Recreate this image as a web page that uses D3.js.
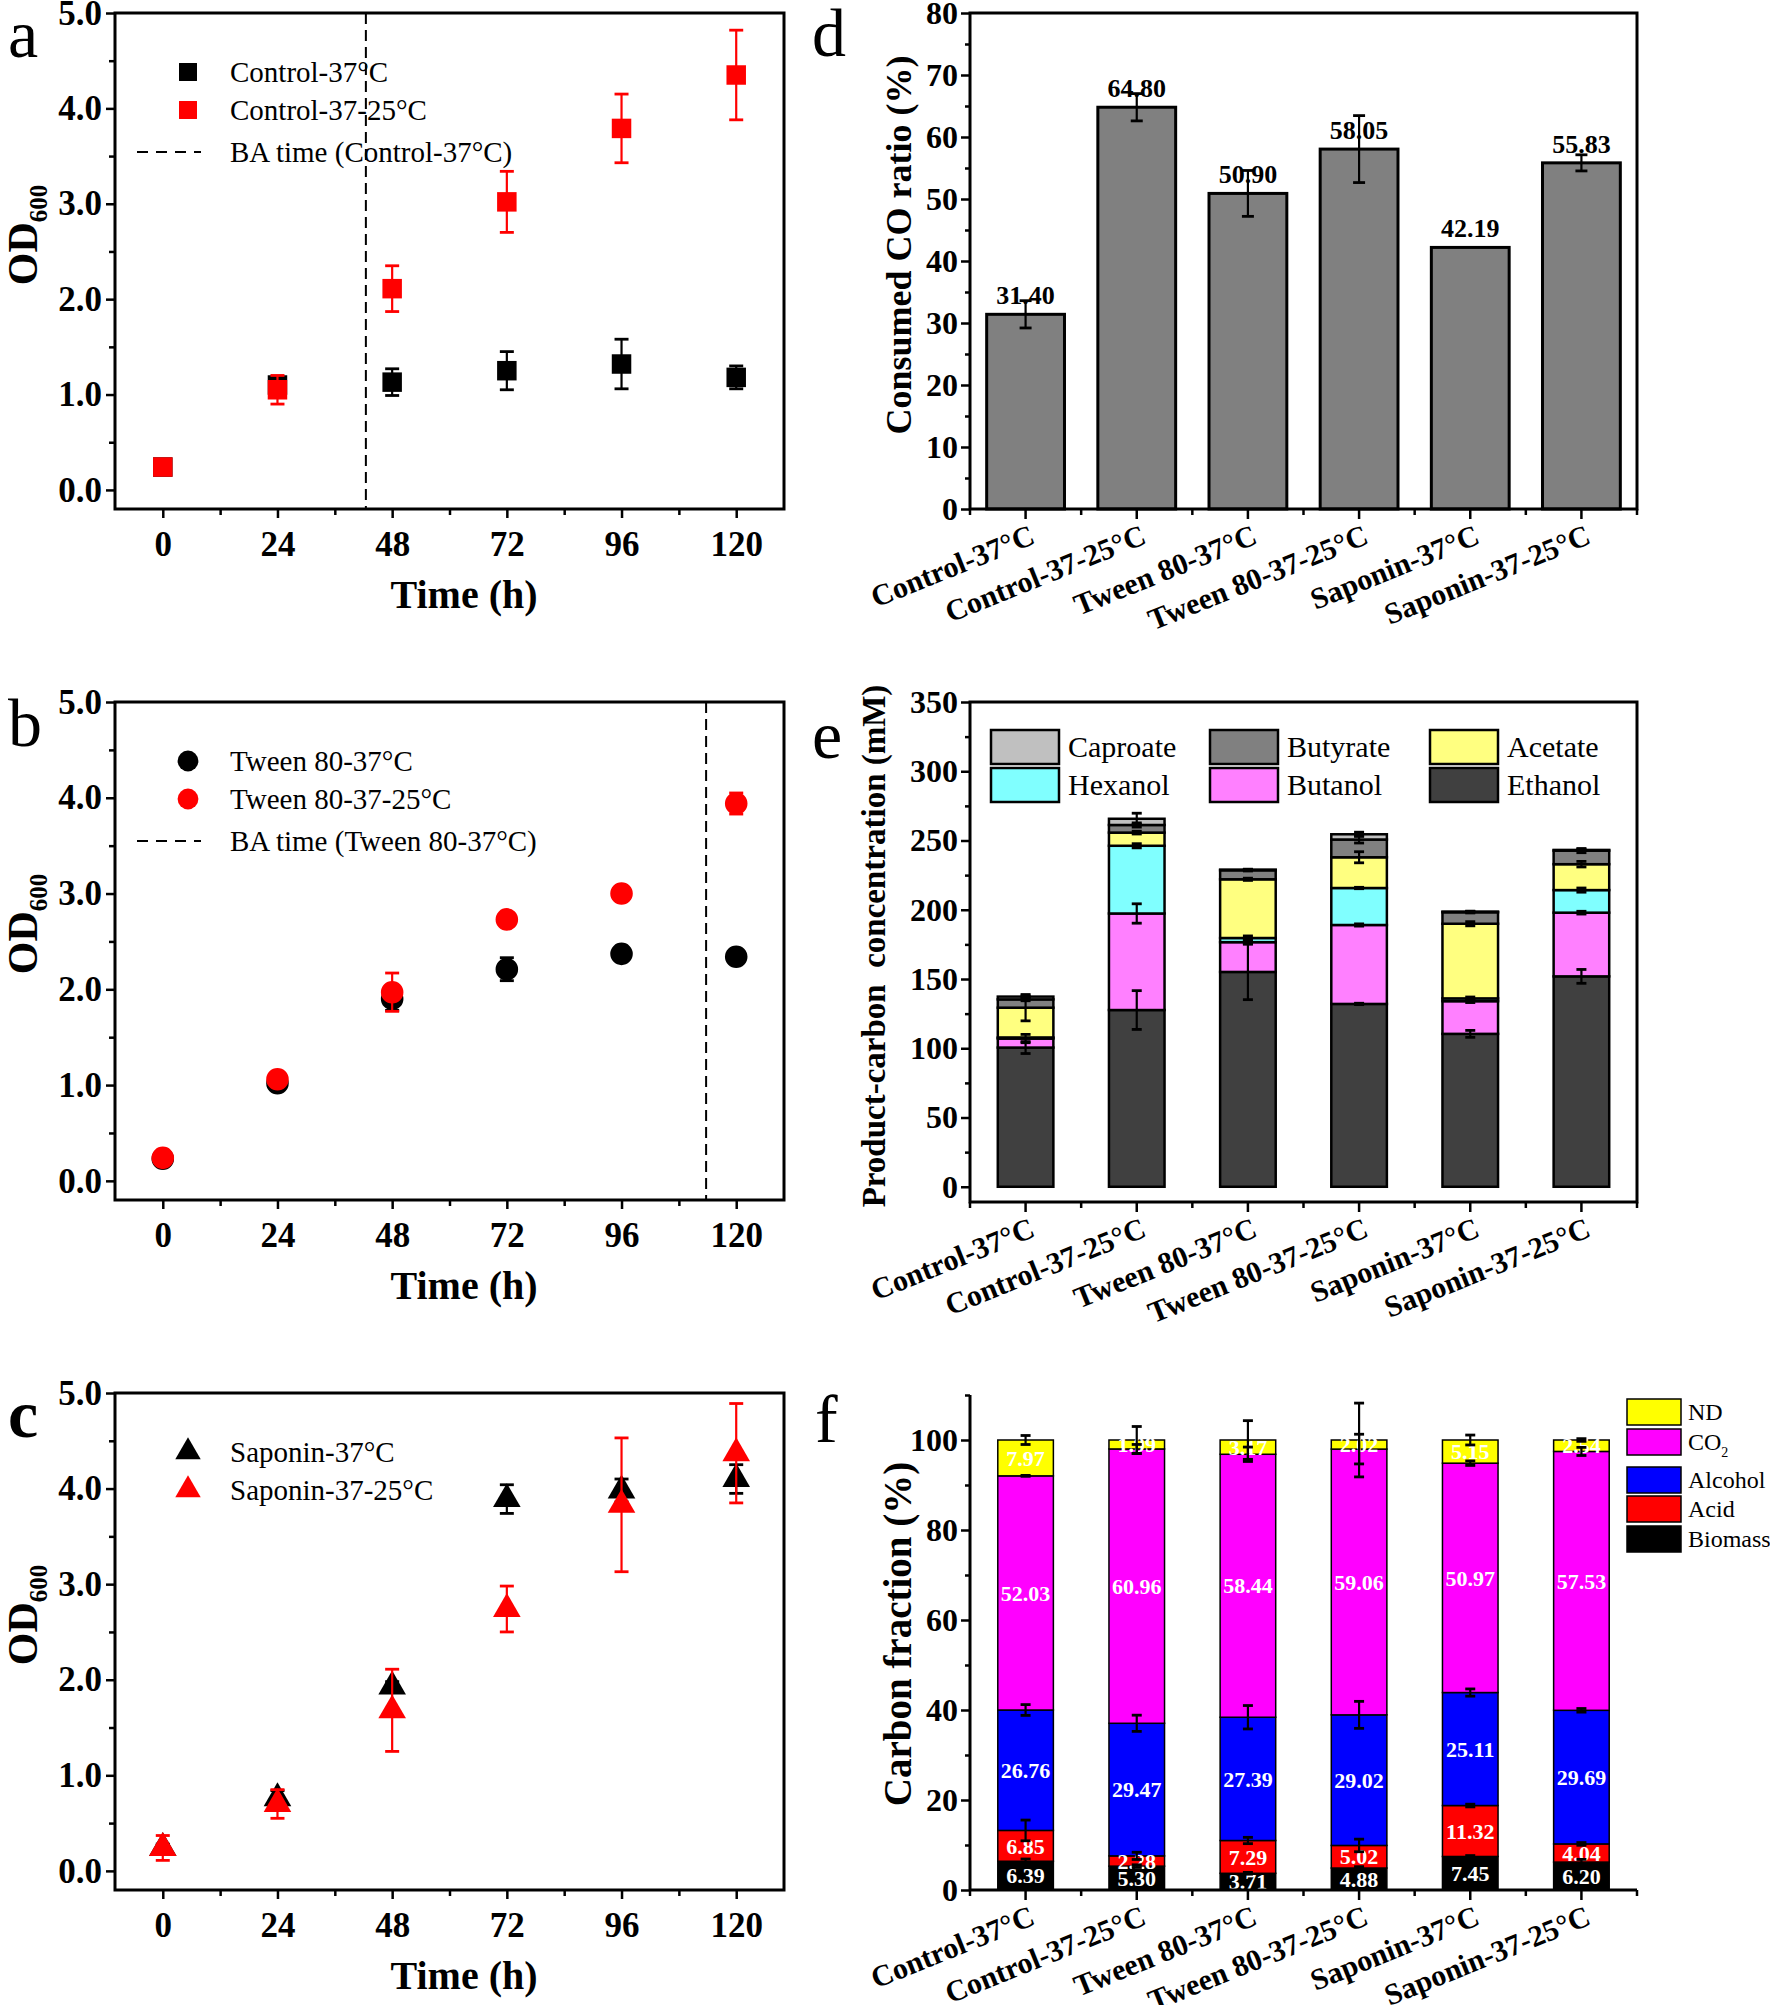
<!DOCTYPE html>
<html>
<head>
<meta charset="utf-8">
<script src="https://cdn.jsdelivr.net/npm/d3@7"></script>
<style>
  body { margin: 0; background: #fff; }
  svg text { font-family: "Liberation Serif", "Times New Roman", serif; }
</style>
</head>
<body>
<svg id="fig" width="1770" height="2005"></svg>
<script>
// ---------- data ----------
const times = [0, 24, 48, 72, 96, 120];
const minorTimes = [12, 36, 60, 84, 108];

// panel a: control
const ctrl37 = [0.24, 1.10, 1.13, 1.25, 1.32, 1.18];
const ctrl37Err = [0.05, 0.07, 0.14, 0.20, 0.26, 0.12];
const ctrl3725 = [0.24, 1.05, 2.11, 3.02, 3.79, 4.35];
const ctrl3725Err = [0.07, 0.15, 0.24, 0.32, 0.36, 0.47];
// panel b: tween 80
const tween37 = [0.23, 1.02, 1.90, 2.21, 2.37, 2.34];
const tween37Err = [0.03, 0.05, 0.12, 0.12, 0.05, 0.05];
const tween3725 = [0.24, 1.06, 1.97, 2.73, 3.00, 3.94];
const tween3725Err = [0.04, 0.06, 0.20, 0.05, 0.04, 0.11];
// panel c: saponin
const sap37 = [0.24, 0.76, 1.93, 3.89, 3.98, 4.10];
const sap37Err = [0.04, 0.08, 0.05, 0.15, 0.12, 0.15];
const sap3725 = [0.24, 0.70, 1.68, 2.74, 3.83, 4.37];
const sap3725Err = [0.13, 0.15, 0.43, 0.24, 0.70, 0.52];
// BA time (h)
const baTimeCtrl = 42.5;
const baTimeTween = 113.7;

const groups = ['Control-37°C', 'Control-37-25°C', 'Tween 80-37°C', 'Tween 80-37-25°C', 'Saponin-37°C', 'Saponin-37-25°C'];

// panel d: consumed CO ratio
const coRatio = [31.40, 64.80, 50.90, 58.05, 42.19, 55.83];
const coRatioErr = [2.2, 2.2, 3.7, 5.4, 0, 1.3];

// panel e: product-carbon concentration (mM), bottom to top
const productKeys = ['Ethanol', 'Butanol', 'Hexanol', 'Acetate', 'Butyrate', 'Caproate'];
const ethanol = [100.5, 127.6, 155.1, 132.0, 110.4, 151.9];
const butanol = [6.5, 69.7, 21.5, 57.0, 23.6, 46.0];
const hexanol = [0.8, 48.9, 3.0, 26.7, 2.0, 16.3];
const acetate = [21.5, 9.5, 42.4, 22.2, 53.9, 18.7];
const butyrate = [6.0, 5.5, 6.5, 12.8, 8.3, 9.8];
const caproate = [2.0, 4.5, 0.5, 3.8, 0.5, 0.5];
const ethanolErr = [4.3, 14, 20, 0.5, 2.5, 5];
const butanolErr = [3, 7, 1, 0.8, 1, 1];
const hexanolErr = [0, 1.5, 1.5, 0.5, 1, 1.5];
const acetateErr = [9.5, 1, 0.8, 4, 1.5, 2];
const butyrateErr = [1, 1.5, 0.5, 2.5, 0.5, 1.5];
const caproateErr = [0.5, 4, 0.3, 1.5, 0.3, 0.5];

// panel f: carbon fraction (%), bottom to top
const fractionKeys = ['Biomass', 'Acid', 'Alcohol', 'CO2', 'ND'];
const biomass = [6.39, 5.30, 3.71, 4.88, 7.45, 6.20];
const acid = [6.85, 2.28, 7.29, 5.02, 11.32, 4.04];
const alcohol = [26.76, 29.47, 27.39, 29.02, 25.11, 29.69];
const co2 = [52.03, 60.96, 58.44, 59.06, 50.97, 57.53];
const nd = [7.97, 1.99, 3.17, 2.02, 5.15, 2.54];
const biomassErr = [0.5, 0.3, 0.2, 0.3, 0.2, 0.6];
const acidErr = [2.3, 0.8, 0.7, 1.4, 0.3, 0.3];
const alcoholErr = [1.2, 1.8, 2.6, 3.0, 0.8, 0.4];
const co2Err = [0.1, 1.0, 1.6, 3.3, 0.5, 0.9];
const ndErr = [1.0, 3.0, 4.3, 8.2, 1.1, 0.3];

// ---------- helpers ----------
const svg = d3.select('#fig');
const SERIF = '"Liberation Serif", "Times New Roman", serif';

function styleAxis(sel, size) {
    sel.attr('font-family', SERIF)
        .attr('font-size', size)
        .attr('font-weight', 'bold');
    sel.select('.domain').remove();
    sel.selectAll('.tick line').attr('stroke', '#000').attr('stroke-width', 2.5);
    sel.selectAll('.tick text').attr('fill', '#000');
}

function errorBar(g, x, yTop, yBot, color, cap) {
    g.append('line')
        .attr('x1', x).attr('x2', x)
        .attr('y1', yTop).attr('y2', yBot)
        .attr('stroke', color).attr('stroke-width', 2.2);
    [yTop, yBot].forEach(yy => {
        g.append('line')
            .attr('x1', x - cap).attr('x2', x + cap)
            .attr('y1', yy).attr('y2', yy)
            .attr('stroke', color).attr('stroke-width', 2.8);
    });
}

function panelLetter(x, y, letter, weight) {
    svg.append('text')
        .attr('x', x).attr('y', y)
        .attr('font-size', 68)
        .attr('font-weight', weight || 'normal')
        .text(letter);
}

function yTitle(x, y, size, build) {
    const t = svg.append('text')
        .attr('transform', `translate(${x},${y}) rotate(-90)`)
        .attr('text-anchor', 'middle')
        .attr('font-size', size)
        .attr('font-weight', 'bold');
    build(t);
}

// ---------- OD600 panels (a, b, c) ----------
function drawOdPanel(p) {
    const left = 115, right = 784;
    const g = svg.append('g');
    const x = d3.scaleLinear().domain([-10, 130]).range([left, right]);
    const y = d3.scaleLinear().domain([-0.2, 5]).range([p.bottom, p.top]);

    // axes
    g.append('g').attr('transform', `translate(0,${p.bottom})`)
        .call(d3.axisBottom(x).tickValues(times).tickSize(9).tickPadding(13).tickFormat(d3.format('d')))
        .call(s => styleAxis(s, 35));
    g.append('g').attr('transform', `translate(0,${p.bottom})`)
        .call(d3.axisBottom(x).tickValues(minorTimes).tickSize(6).tickFormat(''))
        .call(s => styleAxis(s, 35));
    g.append('g').attr('transform', `translate(${left},0)`)
        .call(d3.axisLeft(y).tickValues([0, 1, 2, 3, 4, 5]).tickSize(9).tickPadding(4).tickFormat(d3.format('.1f')))
        .call(s => styleAxis(s, 35));
    g.append('g').attr('transform', `translate(${left},0)`)
        .call(d3.axisLeft(y).tickValues([0.5, 1.5, 2.5, 3.5, 4.5]).tickSize(6).tickFormat(''))
        .call(s => styleAxis(s, 35));

    // BA time line
    if (p.baTime != null) {
        g.append('line')
            .attr('x1', x(p.baTime)).attr('x2', x(p.baTime))
            .attr('y1', p.top).attr('y2', p.bottom)
            .attr('stroke', '#000').attr('stroke-width', 2)
            .attr('stroke-dasharray', '11,6');
    }

    // series
    p.series.forEach(s => {
        const sg = g.append('g');
        s.vals.forEach((v, i) => {
            if (s.errs[i] > 0) errorBar(sg, x(times[i]), y(v + s.errs[i]), y(v - s.errs[i]), s.color, 7);
        });
        sg.selectAll('path.pt')
            .data(s.vals)
            .join('path')
            .attr('class', 'pt')
            .attr('transform', (d, i) => `translate(${x(times[i])},${y(d)})`)
            .attr('d', d3.symbol().type(p.shape).size(p.size))
            .attr('fill', s.color);
    });

    // frame
    g.append('rect')
        .attr('x', left).attr('y', p.top)
        .attr('width', right - left).attr('height', p.bottom - p.top)
        .attr('fill', 'none').attr('stroke', '#000').attr('stroke-width', 3);

    // legend
    const lg = g.append('g');
    p.series.forEach((s, i) => {
        const ly = p.top + 59 + i * 38;
        lg.append('path')
            .attr('transform', `translate(188,${ly})`)
            .attr('d', d3.symbol().type(p.shape).size(p.size * 0.85))
            .attr('fill', s.color);
        lg.append('text')
            .attr('x', 230).attr('y', ly + 10)
            .attr('font-size', 29)
            .text(s.name);
    });
    if (p.baLabel) {
        const ly = p.top + 59 + 2 * 38 + 4;
        lg.append('line')
            .attr('x1', 137).attr('x2', 201)
            .attr('y1', ly).attr('y2', ly)
            .attr('stroke', '#000').attr('stroke-width', 2)
            .attr('stroke-dasharray', '11,8');
        lg.append('text')
            .attr('x', 230).attr('y', ly + 10)
            .attr('font-size', 29)
            .text(p.baLabel);
    }

    // titles
    svg.append('text')
        .attr('x', 464).attr('y', p.bottom + 99)
        .attr('text-anchor', 'middle')
        .attr('font-size', 40).attr('font-weight', 'bold')
        .text('Time (h)');
    yTitle(37, p.top + 222, 42, t => {
        t.append('tspan').text('OD');
        t.append('tspan').attr('font-size', 25).attr('dy', 10).text('600');
    });
    panelLetter(8, p.top + 44, p.letter, p.letter === 'c' ? 'bold' : 'normal');
}

drawOdPanel({
    letter: 'a', top: 13, bottom: 509, shape: d3.symbolSquare, size: 380,
    baTime: baTimeCtrl, baLabel: 'BA time (Control-37°C)',
    series: [
        { name: 'Control-37°C', vals: ctrl37, errs: ctrl37Err, color: '#000' },
        { name: 'Control-37-25°C', vals: ctrl3725, errs: ctrl3725Err, color: '#ff0000' }
    ]
});
drawOdPanel({
    letter: 'b', top: 702, bottom: 1200, shape: d3.symbolCircle, size: 400,
    baTime: baTimeTween, baLabel: 'BA time (Tween 80-37°C)',
    series: [
        { name: 'Tween 80-37°C', vals: tween37, errs: tween37Err, color: '#000' },
        { name: 'Tween 80-37-25°C', vals: tween3725, errs: tween3725Err, color: '#ff0000' }
    ]
});
drawOdPanel({
    letter: 'c', top: 1393, bottom: 1890, shape: d3.symbolTriangle, size: 330,
    baTime: null, baLabel: null,
    series: [
        { name: 'Saponin-37°C', vals: sap37, errs: sap37Err, color: '#000' },
        { name: 'Saponin-37-25°C', vals: sap3725, errs: sap3725Err, color: '#ff0000' }
    ]
});

// ---------- shared bar-panel axes ----------
const barLeft = 970, barRight = 1637;

function categoryAxis(g, x, yBase) {
    const centers = groups.map(d => x(d) + x.bandwidth() / 2);
    const step = x.step();
    const bounds = centers.slice(0, -1).map(c => c + step / 2).concat([barLeft, barRight]);
    centers.forEach(c => g.append('line').attr('x1', c).attr('x2', c).attr('y1', yBase).attr('y2', yBase + 10)
        .attr('stroke', '#000').attr('stroke-width', 2.5));
    bounds.forEach(c => g.append('line').attr('x1', c).attr('x2', c).attr('y1', yBase).attr('y2', yBase + 6)
        .attr('stroke', '#000').attr('stroke-width', 2.5));
    groups.forEach((name, i) => {
        g.append('text')
            .attr('transform', `translate(${centers[i] + 11},${yBase + 34}) rotate(-22)`)
            .attr('text-anchor', 'end')
            .attr('font-size', 30).attr('font-weight', 'bold')
            .text(name);
    });
}

function valueAxis(g, y, major, minor, size) {
    g.append('g').attr('transform', `translate(${barLeft},0)`)
        .call(d3.axisLeft(y).tickValues(major).tickSize(9).tickPadding(3).tickFormat(d3.format('d')))
        .call(s => styleAxis(s, size));
    g.append('g').attr('transform', `translate(${barLeft},0)`)
        .call(d3.axisLeft(y).tickValues(minor).tickSize(5).tickFormat(''))
        .call(s => styleAxis(s, size));
}

// ---------- panel d ----------
(function drawPanelD() {
    const top = 13, bottom = 509;
    const g = svg.append('g');
    const x = d3.scaleBand().domain(groups).range([barLeft, barRight]).paddingInner(0.3).paddingOuter(0.15);
    const y = d3.scaleLinear().domain([0, 80]).range([bottom, top]);

    valueAxis(g, y, d3.range(0, 81, 10), d3.range(5, 80, 10), 32);

    g.selectAll('rect.bar')
        .data(coRatio)
        .join('rect')
        .attr('class', 'bar')
        .attr('x', (d, i) => x(groups[i]))
        .attr('y', d => y(d))
        .attr('width', x.bandwidth())
        .attr('height', d => bottom - y(d))
        .attr('fill', '#808080')
        .attr('stroke', '#000').attr('stroke-width', 3);

    coRatio.forEach((v, i) => {
        const cx = x(groups[i]) + x.bandwidth() / 2;
        if (coRatioErr[i] > 0) errorBar(g, cx, y(v + coRatioErr[i]), y(v - coRatioErr[i]), '#000', 6);
        g.append('text')
            .attr('x', cx).attr('y', y(v) - 10)
            .attr('text-anchor', 'middle')
            .attr('font-size', 26).attr('font-weight', 'bold')
            .text(d3.format('.2f')(v));
    });

    g.append('rect')
        .attr('x', barLeft).attr('y', top)
        .attr('width', barRight - barLeft).attr('height', bottom - top)
        .attr('fill', 'none').attr('stroke', '#000').attr('stroke-width', 3);
    categoryAxis(g, x, bottom);

    yTitle(911, 245, 36, t => t.text('Consumed CO ratio (%)'));
    panelLetter(812, 56, 'd');
})();

// ---------- panel e ----------
(function drawPanelE() {
    const top = 702, bottom = 1202;
    const g = svg.append('g');
    const x = d3.scaleBand().domain(groups).range([barLeft, barRight]).paddingInner(0.5).paddingOuter(0.25);
    const y = d3.scaleLinear().domain([-11, 350]).range([bottom, top]);
    const colors = { Ethanol: '#404040', Butanol: '#ff80ff', Hexanol: '#80ffff', Acetate: '#ffff80', Butyrate: '#808080', Caproate: '#c0c0c0' };
    const vals = { Ethanol: ethanol, Butanol: butanol, Hexanol: hexanol, Acetate: acetate, Butyrate: butyrate, Caproate: caproate };
    const errs = { Ethanol: ethanolErr, Butanol: butanolErr, Hexanol: hexanolErr, Acetate: acetateErr, Butyrate: butyrateErr, Caproate: caproateErr };

    const table = groups.map((name, i) => {
        const row = { group: name };
        productKeys.forEach(k => { row[k] = vals[k][i]; });
        return row;
    });
    const stacked = d3.stack().keys(productKeys)(table);

    valueAxis(g, y, d3.range(0, 351, 50), d3.range(25, 350, 50), 32);

    stacked.forEach(layer => {
        g.selectAll(null)
            .data(layer)
            .join('rect')
            .attr('x', d => x(d.data.group))
            .attr('y', d => y(d[1]))
            .attr('width', x.bandwidth())
            .attr('height', d => y(d[0]) - y(d[1]))
            .attr('fill', colors[layer.key])
            .attr('stroke', '#000').attr('stroke-width', 2.5);
    });
    stacked.forEach(layer => {
        layer.forEach((d, i) => {
            const e = errs[layer.key][i];
            if (e > 0) {
                const cx = x(d.data.group) + x.bandwidth() / 2;
                errorBar(g, cx, y(d[1] + e), y(d[1] - e), '#000', 5);
            }
        });
    });

    g.append('rect')
        .attr('x', barLeft).attr('y', top)
        .attr('width', barRight - barLeft).attr('height', bottom - top)
        .attr('fill', 'none').attr('stroke', '#000').attr('stroke-width', 3);
    categoryAxis(g, x, bottom);

    // legend: 2 rows x 3 columns
    const legendOrder = ['Caproate', 'Butyrate', 'Acetate', 'Hexanol', 'Butanol', 'Ethanol'];
    const colX = [991, 1210, 1430];
    legendOrder.forEach((k, i) => {
        const lx = colX[i % 3], ly = 730 + Math.floor(i / 3) * 38;
        g.append('rect')
            .attr('x', lx).attr('y', ly).attr('width', 68).attr('height', 34)
            .attr('fill', colors[k]).attr('stroke', '#000').attr('stroke-width', 2.5);
        g.append('text')
            .attr('x', lx + 77).attr('y', ly + 27)
            .attr('font-size', 30)
            .text(k);
    });

    yTitle(885, 946, 33, t => t.attr('xml:space', 'preserve').style('white-space', 'pre').text('Product-carbon  concentration (mM)'));
    panelLetter(812, 758, 'e');
})();

// ---------- panel f ----------
(function drawPanelF() {
    const bottom = 1890;
    const g = svg.append('g');
    const x = d3.scaleBand().domain(groups).range([barLeft, barRight]).paddingInner(0.5).paddingOuter(0.25);
    const y = d3.scaleLinear().domain([0, 110]).range([bottom, 1395]);
    const colors = { Biomass: '#000000', Acid: '#ff0000', Alcohol: '#0000ff', CO2: '#ff00ff', ND: '#ffff00' };
    const vals = { Biomass: biomass, Acid: acid, Alcohol: alcohol, CO2: co2, ND: nd };
    const errs = { Biomass: biomassErr, Acid: acidErr, Alcohol: alcoholErr, CO2: co2Err, ND: ndErr };

    const table = groups.map((name, i) => {
        const row = { group: name };
        fractionKeys.forEach(k => { row[k] = vals[k][i]; });
        return row;
    });
    const stacked = d3.stack().keys(fractionKeys)(table);

    valueAxis(g, y, d3.range(0, 101, 20), d3.range(10, 111, 20), 32);

    stacked.forEach(layer => {
        g.selectAll(null)
            .data(layer)
            .join('rect')
            .attr('x', d => x(d.data.group))
            .attr('y', d => y(d[1]))
            .attr('width', x.bandwidth())
            .attr('height', d => y(d[0]) - y(d[1]))
            .attr('fill', colors[layer.key])
            .attr('stroke', '#000').attr('stroke-width', 1.5);
    });
    stacked.forEach(layer => {
        layer.forEach((d, i) => {
            const cx = x(d.data.group) + x.bandwidth() / 2;
            g.append('text')
                .attr('x', cx).attr('y', y((d[0] + d[1]) / 2))
                .attr('dy', '0.35em')
                .attr('text-anchor', 'middle')
                .attr('font-size', 22).attr('font-weight', 'bold')
                .attr('fill', '#fff')
                .text(d3.format('.2f')(vals[layer.key][i]));
        });
    });
    stacked.forEach(layer => {
        layer.forEach((d, i) => {
            const e = errs[layer.key][i];
            const cx = x(d.data.group) + x.bandwidth() / 2;
            errorBar(g, cx, y(d[1] + e), y(d[1] - e), '#000', 5);
        });
    });

    // axis lines (no top/right frame)
    g.append('line').attr('x1', barLeft).attr('x2', barLeft).attr('y1', y(110)).attr('y2', bottom)
        .attr('stroke', '#000').attr('stroke-width', 3);
    g.append('line').attr('x1', barLeft).attr('x2', barRight).attr('y1', bottom).attr('y2', bottom)
        .attr('stroke', '#000').attr('stroke-width', 3);
    categoryAxis(g, x, bottom);

    // legend
    const legendOrder = ['ND', 'CO2', 'Alcohol', 'Acid', 'Biomass'];
    const legendY = [1399, 1429, 1467, 1496, 1526];
    legendOrder.forEach((k, i) => {
        g.append('rect')
            .attr('x', 1627).attr('y', legendY[i]).attr('width', 54).attr('height', 26)
            .attr('fill', colors[k]).attr('stroke', '#000').attr('stroke-width', 1.5);
        const t = g.append('text')
            .attr('x', 1688).attr('y', legendY[i] + 21)
            .attr('font-size', 24);
        if (k === 'CO2') {
            t.append('tspan').text('CO');
            t.append('tspan').attr('font-size', 14).attr('dy', 7).text('2');
        } else {
            t.text(k);
        }
    });

    yTitle(911, 1634, 39, t => t.text('Carbon fraction (%)'));
    panelLetter(815, 1442, 'f');
})();
</script>
</body>
</html>
